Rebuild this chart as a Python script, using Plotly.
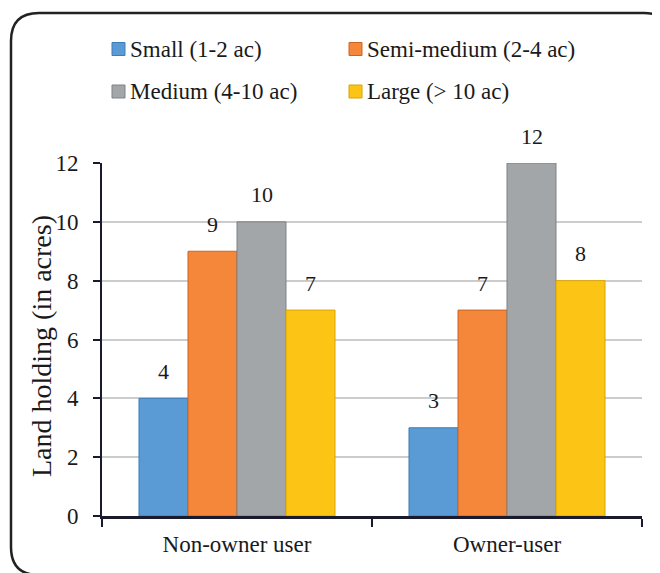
import plotly.graph_objects as go

categories = ["Non-owner user", "Owner-user"]
series_names = ["Small (1-2 ac)", "Semi-medium (2-4 ac)", "Medium (4-10 ac)", "Large (> 10 ac)"]
small = [4, 3]
semi_medium = [9, 7]
medium = [10, 12]
large = [7, 8]
series_values = [small, semi_medium, medium, large]
y_ticks = [0, 2, 4, 6, 8, 10, 12]
y_title = "Land holding (in acres)"

colors = ["#5B9BD5", "#F4873A", "#A3A6A8", "#FCC516"]
edge_colors = ["#3F7DB8", "#C96524", "#7E8183", "#D9A400"]

FONT = "Liberation Serif"
OFF = 8  # page body margin
W, H = 660 - OFF, 573 - OFF
L, R, T, B = 102 - OFF, 18, 163 - OFF, 57
PW, PH = W - L - R, H - T - B
BARGAP = 0.274


def px(x):
    return (x - OFF - L) / PW


def py(y):
    return (H + OFF - B - y) / PH


fig = go.Figure()
for name, vals, c, ec in zip(series_names, series_values, colors, edge_colors):
    fig.add_trace(go.Bar(
        name=name, x=categories, y=vals,
        marker=dict(color=c, line=dict(color=ec, width=1)),
        showlegend=False,
    ))

annotations = []
n = len(series_names)
for i, vals in enumerate(series_values):
    off = (-0.5 + (i + 0.5) / n) * (1 - BARGAP)
    for j, v in enumerate(vals):
        annotations.append(dict(
            x=j + off, y=v, xref="x", yref="y", text=str(v), showarrow=False,
            yanchor="middle", yshift=27, font=dict(family=FONT, size=22, color="#1a1a1a"),
        ))

# manual legend
legend_pos = [(112, 49), (349, 49), (112, 91.5), (349, 91.5)]
shapes = []
for (lx, ly), name, c, ec in zip(legend_pos, series_names, colors, edge_colors):
    shapes.append(dict(type="rect", xref="paper", yref="paper",
                       x0=px(lx), x1=px(lx + 13), y0=py(ly - 6.5), y1=py(ly + 6.5),
                       fillcolor=c, line=dict(color=ec, width=1)))
    annotations.append(dict(x=px(lx + 16), y=py(ly), xref="paper", yref="paper",
                            text=name, showarrow=False, xanchor="left", yanchor="middle",
                            font=dict(family=FONT, size=23, color="#1a1a1a")))

# y-axis title
annotations.append(dict(x=px(41), y=py(346), xref="paper", yref="paper", text=y_title,
                        textangle=-90, showarrow=False, xanchor="center", yanchor="middle",
                        font=dict(family=FONT, size=28, color="#1a1a1a")))

# rounded border
bl, bt, br, bb, r = 11, 13, 672, 575, 28
path = (f"M {px(bl + r)},{py(bt)} L {px(br - r)},{py(bt)} "
        f"Q {px(br)},{py(bt)} {px(br)},{py(bt + r)} "
        f"L {px(br)},{py(bb - r)} Q {px(br)},{py(bb)} {px(br - r)},{py(bb)} "
        f"L {px(bl + r)},{py(bb)} Q {px(bl)},{py(bb)} {px(bl)},{py(bb - r)} "
        f"L {px(bl)},{py(bt + r)} Q {px(bl)},{py(bt)} {px(bl + r)},{py(bt)} Z")
shapes.append(dict(type="path", xref="paper", yref="paper", path=path,
                   line=dict(color="#222222", width=2.5), layer="above"))

fig.update_layout(
    width=W, height=H,
    margin=dict(l=L, r=R, t=T, b=B),
    paper_bgcolor="white", plot_bgcolor="white",
    barmode="group", bargap=BARGAP, bargroupgap=0,
    font=dict(family=FONT, color="#1a1a1a"),
    annotations=annotations, shapes=shapes,
    xaxis=dict(
        showline=True, linecolor="#1a1a2e", linewidth=2.5,
        ticks="outside", tickson="boundaries", ticklen=8, tickwidth=1.5, tickcolor="#1a1a2e",
        tickfont=dict(family=FONT, size=23, color="#1a1a1a"),
        ticklabelstandoff=6,
        showgrid=False,
    ),
    yaxis=dict(
        range=[0, 12], tickvals=y_ticks,
        showline=True, linecolor="#1a1a2e", linewidth=2,
        ticks="outside", ticklen=7, tickwidth=1.5, tickcolor="#1a1a2e",
        tickfont=dict(family=FONT, size=23, color="#1a1a1a"),
        ticklabelstandoff=10,
        showgrid=True, gridcolor="#cccccc", gridwidth=2,
        zeroline=False,
    ),
)

fig.write_html("out.html")
